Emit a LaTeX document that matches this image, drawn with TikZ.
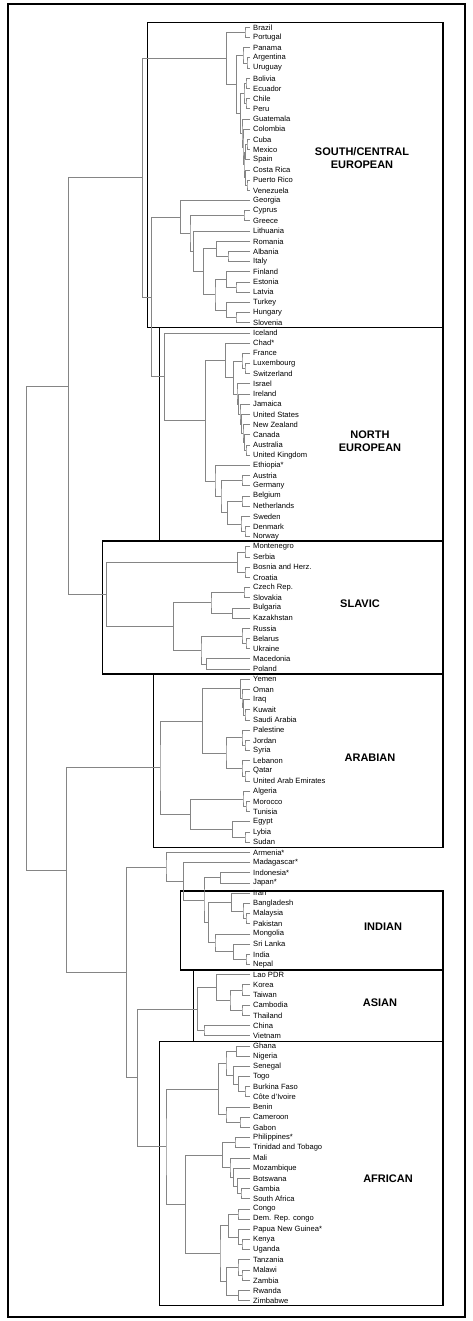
\documentclass[tikz,border=0pt]{standalone}
\usepackage{fontspec}
\setmainfont{Liberation Sans}
\usetikzlibrary{calc}
\newcommand\lf[3]{\coordinate (#1) at (250,{22.3+10.186*(#2+0.5)});
  \node[lab] (t#1) at (253,{22.3+10.186*(#2+0.5)}) {#3};}
\newcommand\jn[4]{\path let \p1=(#3), \p2=(#4) in coordinate (#1) at (#2pt,{0.5*\y1+0.5*\y2});
  \draw[tree] (#3) -| (#1) |- (#4);}
\begin{document}
\begin{tikzpicture}[x=1pt,y=-1pt,
  tree/.style={draw=black!48, line width=0.9pt},
  grp/.style={draw=black, line width=1.4pt},
  lab/.style={anchor=west, font=\fontsize{7.6}{8}\selectfont, inner sep=0pt},
  glab/.style={font=\fontsize{11}{13}\selectfont\bfseries, align=center}]
\useasboundingbox (0,0) rectangle (473,1321);
\draw[line width=2pt] (8.3,4) rectangle (465,1317);
% boxes
\draw[grp] (147.7,22.3) rectangle (443,327.7);
\draw[grp] (159.3,327.7) rectangle (443,541);
\draw[grp] (102.7,541) rectangle (443,674);
\draw[grp] (153.7,674) rectangle (443,847.7);
\draw[grp] (180.3,891) rectangle (443,970);
\draw[grp] (193.3,970) rectangle (443,1041.7);
\draw[grp] (159.3,1041.7) rectangle (443,1305.7);
\node[glab] (gsc) at (362,158) {SOUTH/CENTRAL\\EUROPEAN};
\node[glab] (gne) at (370,441) {NORTH\\EUROPEAN};
\node[glab] (gsl) at (360,604) {SLAVIC};
\node[glab] (gar) at (370,758) {ARABIAN};
\node[glab] (gin) at (383,927) {INDIAN};
\node[glab] (gas) at (380,1003) {ASIAN};
\node[glab] (gaf) at (388,1179) {AFRICAN};
% leaves
\lf{bra}{0}{Brazil}\lf{por}{1}{Portugal}\lf{pan}{2}{Panama}\lf{arg}{3}{Argentina}
\lf{uru}{4}{Uruguay}\lf{bol}{5}{Bolivia}\lf{ecu}{6}{Ecuador}\lf{chi}{7}{Chile}
\lf{per}{8}{Peru}\lf{gua}{9}{Guatemala}\lf{col}{10}{Colombia}\lf{cub}{11}{Cuba}
\lf{mex}{12}{Mexico}\lf{spa}{13}{Spain}\lf{cos}{14}{Costa Rica}\lf{pue}{15}{Puerto Rico}
\lf{ven}{16}{Venezuela}\lf{geo}{17}{Georgia}\lf{cyp}{18}{Cyprus}\lf{gre}{19}{Greece}
\lf{lit}{20}{Lithuania}\lf{rom}{21}{Romania}\lf{alb}{22}{Albania}\lf{ita}{23}{Italy}
\lf{fin}{24}{Finland}\lf{est}{25}{Estonia}\lf{lat}{26}{Latvia}\lf{tur}{27}{Turkey}
\lf{hun}{28}{Hungary}\lf{slo}{29}{Slovenia}\lf{ice}{30}{Iceland}\lf{cha}{31}{Chad*}
\lf{fra}{32}{France}\lf{lux}{33}{Luxembourg}\lf{swi}{34}{Switzerland}\lf{isr}{35}{Israel}
\lf{ire}{36}{Ireland}\lf{jam}{37}{Jamaica}\lf{usa}{38}{United States}\lf{nzl}{39}{New Zealand}
\lf{can}{40}{Canada}\lf{aus}{41}{Australia}\lf{ukg}{42}{United Kingdom}\lf{eth}{43}{Ethiopia*}
\lf{aut}{44}{Austria}\lf{ger}{45}{Germany}\lf{bel}{46}{Belgium}\lf{net}{47}{Netherlands}
\lf{swe}{48}{Sweden}\lf{den}{49}{Denmark}\lf{nor}{50}{Norway}\lf{mon}{51}{Montenegro}
\lf{ser}{52}{Serbia}\lf{bos}{53}{Bosnia and Herz.}\lf{cro}{54}{Croatia}\lf{cze}{55}{Czech Rep.}
\lf{svk}{56}{Slovakia}\lf{bul}{57}{Bulgaria}\lf{kaz}{58}{Kazakhstan}\lf{rus}{59}{Russia}
\lf{blr}{60}{Belarus}\lf{ukr}{61}{Ukraine}\lf{mac}{62}{Macedonia}\lf{pol}{63}{Poland}
\lf{yem}{64}{Yemen}\lf{oma}{65}{Oman}\lf{irq}{66}{Iraq}\lf{kuw}{67}{Kuwait}
\lf{sau}{68}{Saudi Arabia}\lf{pal}{69}{Palestine}\lf{jor}{70}{Jordan}\lf{syr}{71}{Syria}
\lf{leb}{72}{Lebanon}\lf{qat}{73}{Qatar}\lf{uae}{74}{United Arab Emirates}\lf{alg}{75}{Algeria}
\lf{mor}{76}{Morocco}\lf{tun}{77}{Tunisia}\lf{egy}{78}{Egypt}\lf{lby}{79}{Lybia}
\lf{sud}{80}{Sudan}\lf{arm}{81}{Armenia*}\lf{mad}{82}{Madagascar*}\lf{ins}{83}{Indonesia*}
\lf{jap}{84}{Japan*}\lf{irn}{85}{Iran}\lf{ban}{86}{Bangladesh}\lf{mal}{87}{Malaysia}
\lf{pak}{88}{Pakistan}\lf{mng}{89}{Mongolia}\lf{sri}{90}{Sri Lanka}\lf{inA}{91}{India}
\lf{nep}{92}{Nepal}\lf{lao}{93}{Lao PDR}\lf{kor}{94}{Korea}\lf{tai}{95}{Taiwan}
\lf{cam}{96}{Cambodia}\lf{tha}{97}{Thailand}\lf{chn}{98}{China}\lf{vie}{99}{Vietnam}
\lf{gha}{100}{Ghana}\lf{nig}{101}{Nigeria}\lf{sen}{102}{Senegal}\lf{tog}{103}{Togo}
\lf{bur}{104}{Burkina Faso}\lf{cdi}{105}{Côte d'Ivoire}\lf{ben}{106}{Benin}\lf{cmr}{107}{Cameroon}
\lf{gab}{108}{Gabon}\lf{phi}{109}{Philippines*}\lf{tri}{110}{Trinidad and Tobago}\lf{mli}{111}{Mali}
\lf{moz}{112}{Mozambique}\lf{bot}{113}{Botswana}\lf{gam}{114}{Gambia}\lf{saf}{115}{South Africa}
\lf{con}{116}{Congo}\lf{drc}{117}{Dem. Rep. congo}\lf{png}{118}{Papua New Guinea*}\lf{ken}{119}{Kenya}
\lf{uga}{120}{Uganda}\lf{tan}{121}{Tanzania}\lf{mlw}{122}{Malawi}\lf{zam}{123}{Zambia}
\lf{rwa}{124}{Rwanda}\lf{zim}{125}{Zimbabwe}
% Latin
\jn{a1}{245}{bra}{por}\jn{a2}{247}{arg}{uru}\jn{a3}{243}{pan}{a2}
\jn{a4}{246}{bol}{ecu}\jn{a5}{246}{chi}{per}\jn{a6}{244}{a4}{a5}
\jn{a8}{247}{cub}{mex}\jn{a9}{245.5}{a8}{spa}\jn{a11}{247}{pue}{ven}\jn{a12}{245.5}{cos}{a11}
\jn{a13}{244}{a9}{a12}\jn{a14}{243}{col}{a13}\jn{a15}{242}{gua}{a14}
\jn{L3}{240.5}{a6}{a15}\jn{L2}{236.7}{a3}{L3}\jn{LAT}{226.7}{a1}{L2}
% South-east Europe
\jn{b1}{244}{cyp}{gre}\jn{b2}{228}{alb}{ita}\jn{b3}{216.7}{rom}{b2}
\jn{b4}{236}{est}{lat}\jn{b5}{226.7}{fin}{b4}\jn{b6}{236}{hun}{slo}\jn{b7}{226.7}{tur}{b6}
\jn{b8}{215}{b5}{b7}\jn{b9}{203.3}{b3}{b8}\jn{b10}{193.3}{lit}{b9}
\jn{b11}{190}{b1}{b10}\jn{SEU}{180.3}{geo}{b11}
% North
\jn{c1}{245}{lux}{swi}\jn{c2}{242}{fra}{c1}
\jn{c3}{246}{aus}{ukg}\jn{c4}{244.5}{can}{c3}\jn{c5}{243}{nzl}{c4}\jn{c6}{241.5}{usa}{c5}
\jn{c7}{240}{jam}{c6}\jn{c8}{238.5}{ire}{c7}\jn{c9}{237}{isr}{c8}
\jn{c10}{233.3}{c2}{c9}\jn{c11}{225.7}{cha}{c10}
\jn{c12}{242}{aut}{ger}\jn{c13}{242}{bel}{net}\jn{c14}{245}{den}{nor}\jn{c15}{241}{swe}{c14}
\jn{c16}{227.7}{c13}{c15}\jn{c17}{221}{c12}{c16}\jn{c18}{215}{eth}{c17}
\jn{c19}{205.7}{c11}{c18}\jn{NOR}{164.3}{ice}{c19}
\jn{E1}{151.7}{SEU}{NOR}\jn{E2}{142.3}{LAT}{E1}
% Slavic
\jn{d1}{245}{mon}{ser}\jn{d2}{245}{bos}{cro}\jn{YUG}{237.7}{d1}{d2}
\jn{d3}{244}{cze}{svk}\jn{d4}{232.3}{bul}{kaz}\jn{d5}{211}{d3}{d4}
\jn{d6}{246}{blr}{ukr}\jn{d7}{242}{rus}{d6}\jn{d8}{206.7}{mac}{pol}\jn{d9}{201}{d7}{d8}
\jn{d10}{173.3}{d5}{d9}\jn{SLV}{106.7}{YUG}{d10}
\jn{EUR}{68.3}{E2}{SLV}
% Arabian
\jn{e1}{245}{kuw}{sau}\jn{e2}{243.5}{irq}{e1}\jn{e3}{242}{oma}{e2}\jn{e4}{240.5}{yem}{e3}
\jn{e5}{245}{jor}{syr}\jn{e6}{242}{pal}{e5}\jn{e7}{245}{qat}{uae}\jn{e8}{242}{leb}{e7}
\jn{e9}{226}{e6}{e8}\jn{e10}{202.7}{e4}{e9}
\jn{e11}{246}{mor}{tun}\jn{e12}{243}{alg}{e11}\jn{e13}{245}{lby}{sud}\jn{e14}{232.7}{egy}{e13}
\jn{e15}{190.7}{e12}{e14}\jn{ARB}{160}{e10}{e15}
% unboxed + Indian
\jn{f1}{220.7}{ins}{jap}
\jn{g1}{246}{mal}{pak}\jn{g2}{243}{ban}{g1}\jn{g3}{231.7}{irn}{g2}
\jn{g4}{246}{inA}{nep}\jn{g5}{233.3}{sri}{g4}\jn{g6}{215}{mng}{g5}
\jn{IND}{208.3}{g3}{g6}\jn{f2}{204}{f1}{IND}\jn{f3}{183.3}{mad}{f2}\jn{f4}{166}{arm}{f3}
% Asian
\jn{h1}{242}{kor}{tai}\jn{h2}{242}{cam}{tha}\jn{h3}{230}{h1}{h2}\jn{h4}{216.7}{lao}{h3}
\jn{h5}{204}{chn}{vie}\jn{ASN}{197.7}{h4}{h5}
% African
\jn{k1}{236.7}{gha}{nig}\jn{k2}{245}{bur}{cdi}\jn{k3}{238.3}{tog}{k2}\jn{k4}{233.3}{sen}{k3}
\jn{k5}{226}{k1}{k4}\jn{k6}{240}{cmr}{gab}\jn{k7}{226}{ben}{k6}\jn{k8}{218.3}{k5}{k7}
\jn{k9}{235}{phi}{tri}\jn{k10}{241}{gam}{saf}\jn{k11}{237.3}{bot}{k10}\jn{k12}{233.3}{moz}{k11}
\jn{k13}{230}{mli}{k12}\jn{k14}{222.7}{k9}{k13}
\jn{k15}{238}{con}{drc}\jn{k16}{242}{ken}{uga}\jn{k17}{238.3}{png}{k16}\jn{k18}{228.3}{k15}{k17}
\jn{k19}{242}{mlw}{zam}\jn{k20}{238}{tan}{k19}\jn{k21}{238.3}{rwa}{zim}\jn{k22}{226.7}{k20}{k21}
\jn{k23}{220}{k18}{k22}\jn{k24}{185.3}{k14}{k23}\jn{AFR}{166}{k8}{k24}
\jn{AA}{137.7}{ASN}{AFR}\jn{LOW}{126.7}{f4}{AA}
\jn{LOWER}{66.7}{ARB}{LOW}
\jn{ROOT}{26.7}{EUR}{LOWER}
\end{tikzpicture}
\end{document}
